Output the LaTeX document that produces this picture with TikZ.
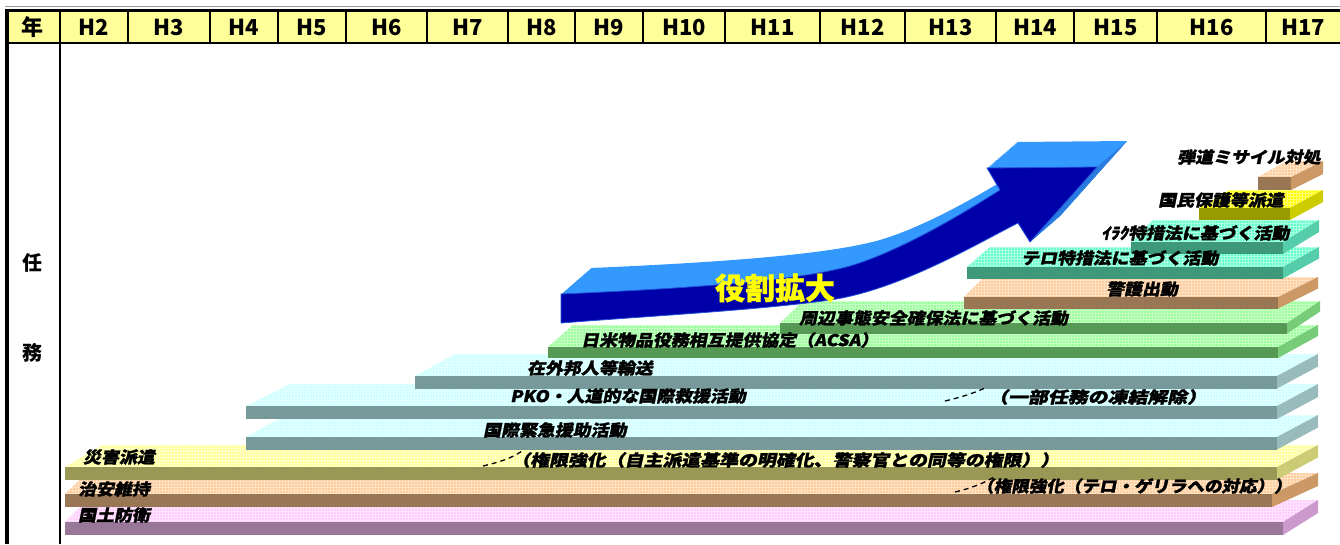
\documentclass[tikz,border=0pt]{standalone}
\usepackage{fontspec}
\usetikzlibrary{patterns}
\newfontfamily\jp{Noto Sans CJK JP}
\newfontfamily\jpit{Noto Sans CJK JP}[FakeSlant=0.2,FakeStretch=1.12,FakeBold=1.6]
\newfontfamily\jpheavy{Noto Sans CJK JP}[FakeBold=1.2]
% colour sets: top, front, side
\definecolor{topP}{HTML}{FFCCFF}\definecolor{frP}{HTML}{997799}\definecolor{sdP}{HTML}{CC99CC}
\definecolor{topO}{HTML}{FFCC99}\definecolor{frO}{HTML}{997755}\definecolor{sdO}{HTML}{CC9966}
\definecolor{topY}{HTML}{FFFF99}\definecolor{frY}{HTML}{999955}\definecolor{sdY}{HTML}{CCCC77}
\definecolor{topC}{HTML}{CCFFFF}\definecolor{frC}{HTML}{779999}\definecolor{sdC}{HTML}{99BBBB}
\definecolor{topG}{HTML}{99FF99}\definecolor{frG}{HTML}{559955}\definecolor{sdG}{HTML}{77CC77}
\definecolor{topT}{HTML}{66FFCC}\definecolor{frT}{HTML}{3D9977}\definecolor{sdT}{HTML}{55CCAA}
\definecolor{topB}{HTML}{FFFF00}\definecolor{frB}{HTML}{999900}\definecolor{sdB}{HTML}{CCCC00}
\definecolor{hdr}{HTML}{FFFF99}
\definecolor{arrfront}{HTML}{0000AA}
\definecolor{arrtop}{HTML}{3399FF}
\definecolor{arrside}{HTML}{2A7BE0}
\definecolor{arredge}{HTML}{2250D8}
\definecolor{roleyellow}{HTML}{FFFF00}
% #1 x1, #2 x2, #3 front top y, #4 left depth dx, #5 right depth dx, #6 depth dy, #7 colour set, #8 front height
\newcommand\barslab[8]{%
  \fill[top#7] (#1,#3) -- (#2,#3) -- (#2+#5,#3-#6) -- (#1+#4,#3-#6) -- cycle;
  \fill[pattern=grid, pattern color=top#7!55!white] (#1,#3) -- (#2,#3) -- (#2+#5,#3-#6) -- (#1+#4,#3-#6) -- cycle;
  \fill[sd#7] (#2,#3) -- (#2+#5,#3-#6) -- (#2+#5,#3-#6+#8) -- (#2,#3+#8) -- cycle;
  \fill[fr#7] (#1,#3) rectangle (#2,#3+#8);
}
\def\arrowpath{(561,323) -- (561,294) .. controls (700,288) and (800,280) .. (850,266) .. controls (890,254) and (940,228) .. (1000,190) -- (987,168) -- (1097,167) -- (1030,242) -- (1018,223) .. controls (980,242) and (900,290) .. (830,300) .. controls (760,310) and (650,316) .. (561,323) -- cycle}
\tikzset{
  hlabel/.style={font=\jp\bfseries\fontsize{22}{22}\selectfont, inner sep=0},
  sidelabel/.style={font=\jp\bfseries\fontsize{20}{20}\selectfont, inner sep=0},
  barlabel/.style={font=\jpit\bfseries\fontsize{16}{16}\selectfont, anchor=west, inner sep=0},
  dashlead/.style={line width=1.3pt, dash pattern=on 5pt off 4pt},
}
\begin{document}
\begin{tikzpicture}[x=1pt,y=-1pt]
\useasboundingbox (0,0) rectangle (1340,544);
% ---------- header ----------
\fill[hdr] (5,10) rectangle (1340,43);
\draw[black!40, line width=1] (5,6.5) -- (1340,6.5);
\draw[line width=3] (5,10) -- (1340,10);
\draw[line width=2.5] (5,43) -- (1340,43);
\foreach \x in {60,128,210,278,346,427,508,575,643,725,820,905,996,1074,1157,1266}
  \draw[line width=1.5] (\x,10) -- (\x,43);
\draw[line width=2] (60,43) -- (60,544);
\draw[line width=4] (7,8.5) -- (7,544);
\node[hlabel] (h0) at (32,27) {年};
\node[hlabel] (h2) at (94,27) {H2};
\node[hlabel] (h3) at (169,27) {H3};
\node[hlabel] (h4) at (244,27) {H4};
\node[hlabel] (h5) at (312,27) {H5};
\node[hlabel] (h6) at (386.5,27) {H6};
\node[hlabel] (h7) at (467.5,27) {H7};
\node[hlabel] (h8) at (541.5,27) {H8};
\node[hlabel] (h9) at (609,27) {H9};
\node[hlabel] (h10) at (684,27) {H10};
\node[hlabel] (h11) at (772.5,27) {H11};
\node[hlabel] (h12) at (862.5,27) {H12};
\node[hlabel] (h13) at (950.5,27) {H13};
\node[hlabel] (h14) at (1035,27) {H14};
\node[hlabel] (h15) at (1115.5,27) {H15};
\node[hlabel] (h16) at (1211.5,27) {H16};
\node[hlabel] (h17) at (1303,27) {H17};
\node[sidelabel] (s1) at (33,263) {任};
\node[sidelabel] (s2) at (33,353) {務};
% ---------- bars (bottom to top) ----------
\barslab{65}{1283}{522}{22}{35}{22}{P}{13}
\barslab{65}{1272}{494}{22}{46}{21}{O}{13}
\barslab{65}{1277}{467}{38}{41}{22}{Y}{12.5}
\barslab{246}{1277}{437}{40}{41}{22}{C}{12.5}
\barslab{246}{1277}{406}{44}{41}{22}{C}{13}
\barslab{415}{1277}{376}{40}{41}{22}{C}{12.5}
\barslab{548}{1278}{347}{25}{40}{22}{G}{11}
\barslab{780}{1287}{323}{23}{33}{22}{G}{10.5}
\barslab{964}{1278}{297}{20}{40}{20}{O}{11.5}
\barslab{967}{1283}{267}{23}{36}{20}{T}{11.5}
\barslab{1131}{1283}{242}{22}{36}{22}{T}{12}
\barslab{1199}{1290}{208}{31}{33}{18}{B}{12}
\barslab{1258}{1291}{177}{29}{32}{16}{O}{13}
% ---------- arrow ----------
\foreach \i in {30,29,...,1}
  \fill[arrtop, shift={(\i,-\i*26/30)}] \arrowpath;
\fill[arrside] (1097,167) -- (1030,242) -- (1060,216) -- (1127,141) -- cycle;
\fill[arrfront, draw=arredge, line width=0.8pt] \arrowpath;
\node[font=\jpheavy\bfseries\fontsize{30}{30}\selectfont, text=roleyellow, inner sep=0] (role) at (775,288) {役割拡大};
% ---------- labels ----------
\node[barlabel] (l1) at (78,515) {国土防衛};
\node[barlabel] (l2) at (78,489) {治安維持};
\node[barlabel] (l3) at (83,457) {災害派遣};
\node[barlabel] (l4) at (483,430) {国際緊急援助活動};
\node[barlabel] (l5) at (510,396) {PKO・人道的な国際救援活動};
\node[barlabel] (l6) at (527,368) {在外邦人等輸送};
\node[barlabel] (l7) at (581,340) {日米物品役務相互提供協定（ACSA）};
\node[barlabel] (l8) at (799,318) {周辺事態安全確保法に基づく活動};
\node[barlabel] (l9) at (1106,289) {警護出動};
\node[barlabel] (l10) at (1021,258) {テロ特措法に基づく活動};
\node[barlabel] (l11) at (1101,233) {ｲﾗｸ特措法に基づく活動};
\node[barlabel] (l12) at (1158,200) {国民保護等派遣};
\node[barlabel] (l13) at (1177,157) {弾道ミサイル対処};
\node[barlabel] (n2) at (511,460) {\scalebox{1.055}[1]{（権限強化（自主派遣基準の明確化、警察官との同等の権限））}};
\node[barlabel] (n3) at (988,397) {\scalebox{1.11}[1]{（一部任務の凍結解除）}};
\node[barlabel] (n1) at (976,486) {\scalebox{0.978}[1]{（権限強化（テロ・ゲリラへの対応））}};
% dashed lead-ins
\coordinate (d2a) at (483,466); \coordinate (d2b) at (522,451);
\coordinate (d3a) at (945,401); \coordinate (d3b) at (985,388);
\coordinate (d1a) at (955,492); \coordinate (d1b) at (994,477);
\draw[dashlead] (d2a) .. controls (500,462) and (512,458) .. (d2b);
\draw[dashlead] (d3a) .. controls (962,397) and (974,393) .. (d3b);
\draw[dashlead] (d1a) .. controls (972,488) and (984,483) .. (d1b);
\end{tikzpicture}
\end{document}
